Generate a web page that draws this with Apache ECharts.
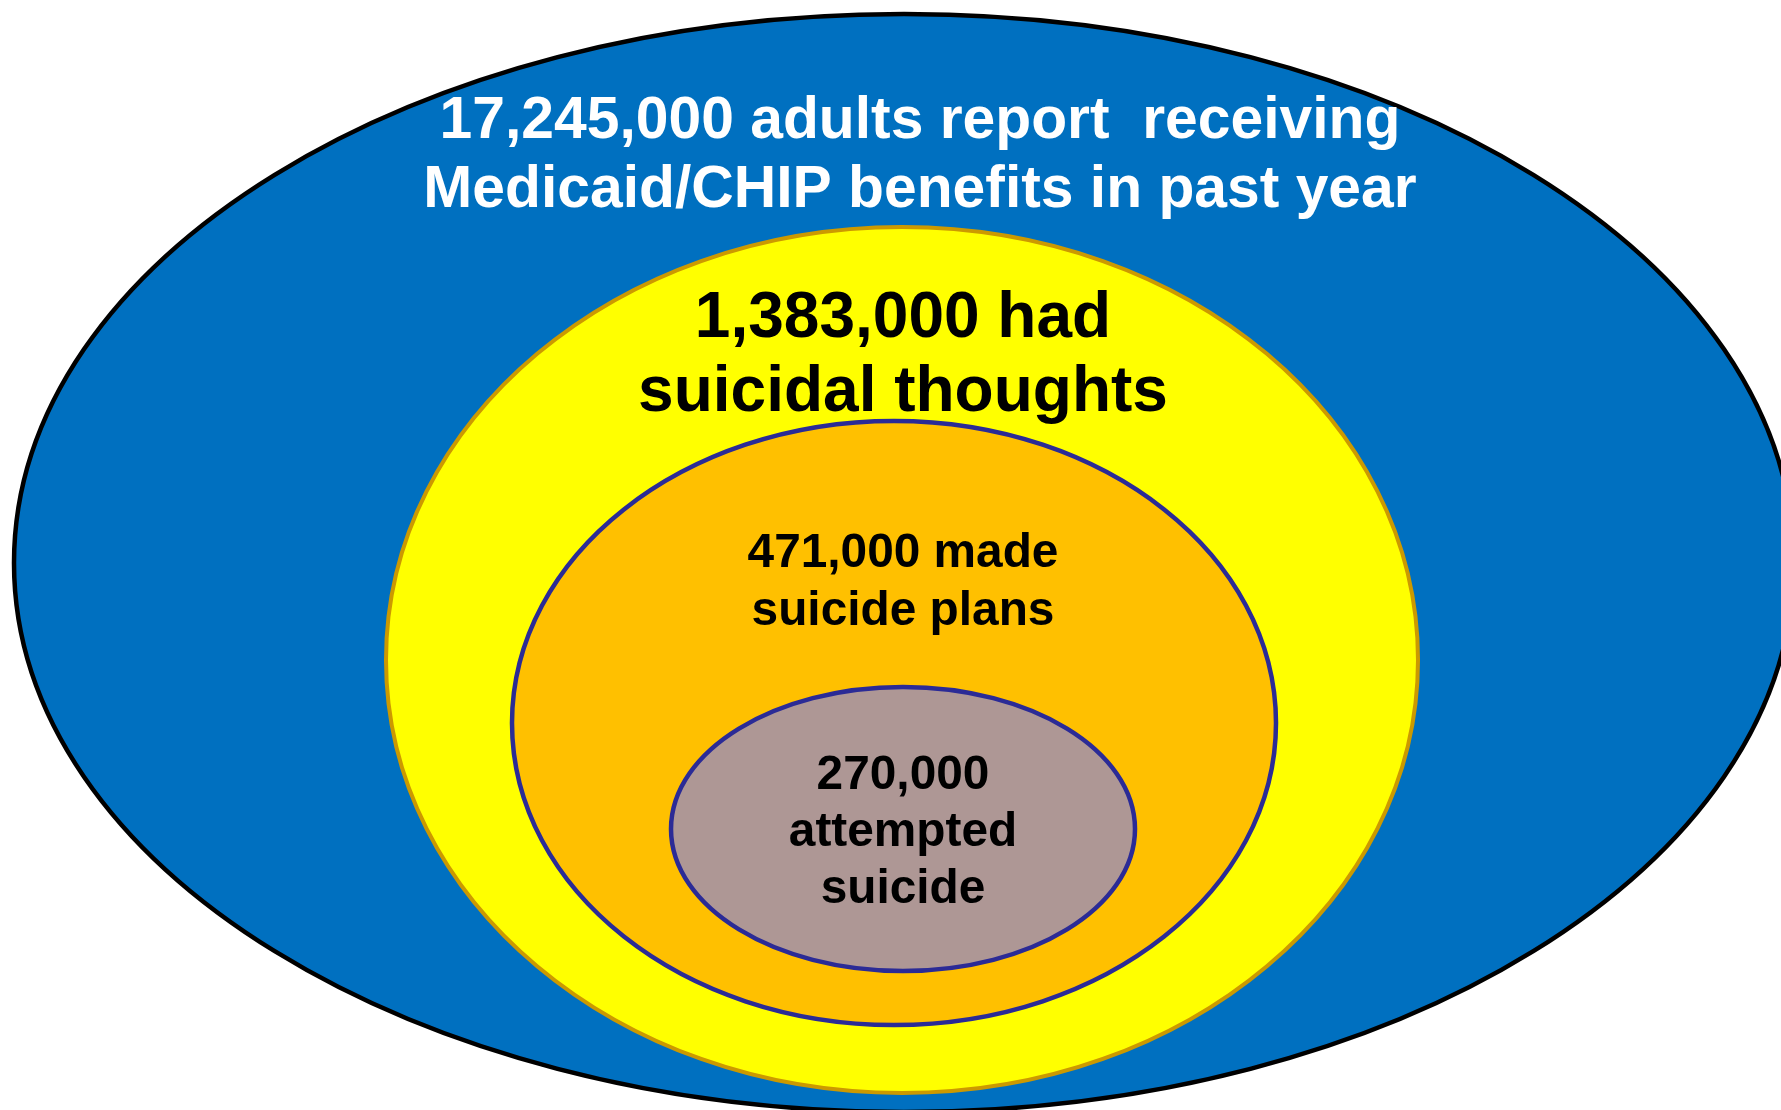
<!DOCTYPE html>
<html>
<head>
<meta charset="utf-8">
<title>Suicidal thoughts and behaviour among adults receiving Medicaid/CHIP</title>
<script src="https://cdn.jsdelivr.net/npm/echarts@6/dist/echarts.min.js"></script>
<style>
  html, body { margin: 0; padding: 0; background: #ffffff; }
  #chart { width: 1781px; height: 1110px; }
</style>
</head>
<body>
<div id="chart"></div>
<script>
// Nested groups, from the whole population down to the smallest subgroup
const groupCounts = [17245000, 1383000, 471000, 270000];
const groupTexts = [
  [' adults report  receiving', 'Medicaid/CHIP benefits in past year'],
  [' had', 'suicidal thoughts'],
  [' made', 'suicide plans'],
  ['', 'attempted', 'suicide']
];

// Ellipse geometry in page units (x across, y down)
const ellipseLayout = [
  { cx: 904, cy: 563, rx: 890, ry: 549 },
  { cx: 902, cy: 660, rx: 516, ry: 433 },
  { cx: 894, cy: 723, rx: 382, ry: 302 },
  { cx: 903, cy: 829, rx: 232, ry: 142 }
];
// Text placement: centre x, first baseline, baseline step, font size
const textLayout = [
  { x: 920, baseline: 142, step: 69, size: 58.8 },
  { x: 903, baseline: 342, step: 74, size: 64 },
  { x: 903, baseline: 570, step: 58, size: 47.8 },
  { x: 903, baseline: 792, step: 57, size: 47.8 }
];
const ellipseStyles = [
  { fill: '#0070C0', stroke: '#000000', width: 4.5, text: '#FFFFFF' },
  { fill: '#FFFF00', stroke: '#CC9900', width: 4, text: '#000000' },
  { fill: '#FFC000', stroke: '#2B2B96', width: 4.5, text: '#000000' },
  { fill: '#AE9795', stroke: '#2B2B96', width: 4.5, text: '#000000' }
];

const FONT_FAMILY = '"Liberation Sans", Arial, Helvetica, sans-serif';

function buildLines(i) {
  const n = groupCounts[i].toLocaleString('en-US');
  const parts = groupTexts[i];
  return [n + parts[0]].concat(parts.slice(1));
}

const chart = echarts.init(document.getElementById('chart'), null, { renderer: 'canvas' });

chart.setOption({
  animation: false,
  backgroundColor: '#ffffff',
  grid: { left: 0, right: 0, top: 0, bottom: 0 },
  xAxis: { type: 'value', min: 0, max: 1781, show: false },
  yAxis: { type: 'value', min: 0, max: 1110, inverse: true, show: false },
  series: [{
    type: 'custom',
    coordinateSystem: 'cartesian2d',
    clip: false,
    data: groupCounts.map((c, i) => [i, c]),
    encode: { x: 0, y: 0 },
    renderItem: function (params, api) {
      const i = params.dataIndex;
      const g = ellipseLayout[i];
      const t = textLayout[i];
      const s = ellipseStyles[i];
      const centre = api.coord([g.cx, g.cy]);
      const radii = api.size([g.rx, g.ry]);
      const children = [{
        type: 'ellipse',
        shape: { cx: centre[0], cy: centre[1], rx: radii[0], ry: radii[1] },
        style: { fill: s.fill, stroke: s.stroke, lineWidth: s.width }
      }];
      buildLines(i).forEach(function (line, k) {
        // canvas 'middle' sits about 0.3465 em above the alphabetic baseline
        const pos = api.coord([t.x, t.baseline + k * t.step - 0.3465 * t.size]);
        children.push({
          type: 'text',
          x: pos[0],
          y: pos[1],
          style: {
            text: line,
            fill: s.text,
            font: 'bold ' + t.size + 'px ' + FONT_FAMILY,
            align: 'center',
            verticalAlign: 'middle'
          }
        });
      });
      return { type: 'group', children: children };
    }
  }]
});
</script>
</body>
</html>
